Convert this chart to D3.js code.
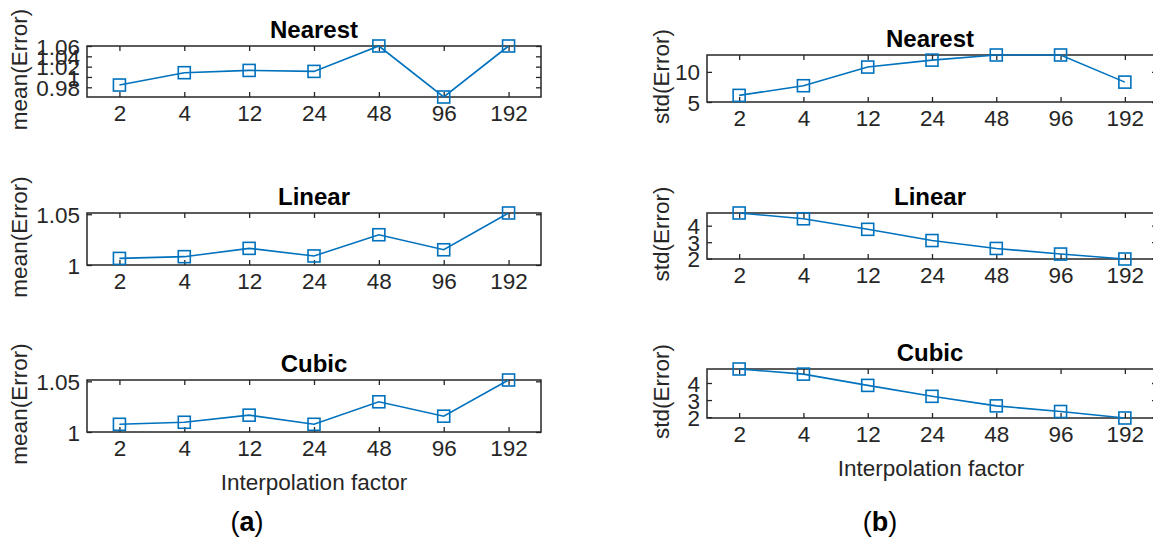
<!DOCTYPE html>
<html>
<head>
<meta charset="utf-8">
<script src="https://cdn.jsdelivr.net/npm/d3@7/dist/d3.min.js"></script>
<style>
  html, body { margin: 0; padding: 0; background: #fff; }
  svg { display: block; }
  text { font-family: "Liberation Sans", Arial, Helvetica, sans-serif; }
</style>
</head>
<body>
<svg id="chart" width="1153" height="540"></svg>
<script>
// Interpolation factors (shared x categories)
const factors = ["2", "4", "12", "24", "48", "96", "192"];

// (a) mean error per interpolation method
const meanNearest = [0.9844, 1.0083, 1.0127, 1.0108, 1.0600, 0.9612, 1.0600];
const meanLinear  = [1.0065, 1.0082, 1.0164, 1.0089, 1.0298, 1.0150, 1.0512];
const meanCubic   = [1.0076, 1.0096, 1.0166, 1.0076, 1.0298, 1.0156, 1.0513];

// (b) standard deviation of error per interpolation method
const stdNearest = [6.1, 7.7, 10.8, 11.95, 12.8, 12.8, 8.3];
const stdLinear  = [4.77, 4.42, 3.78, 3.10, 2.62, 2.28, 1.98];
const stdCubic   = [4.82, 4.52, 3.86, 3.22, 2.66, 2.33, 1.95];

// y tick values
const meanNearestTicks = [0.98, 1, 1.02, 1.04, 1.06];
const meanTicks = [1, 1.05];
const stdNearestTicks = [5, 10];
const stdTicks = [2, 3, 4];

const titles = ["Nearest", "Linear", "Cubic"];
const xLabelText = "Interpolation factor";

const svg = d3.select("#chart");
const LINE = "#0072BD";
const AX = "#262626";
const FS = 22.5;

// panel boxes
const panels = [
  { vals: meanNearest, ticks: meanNearestTicks, title: titles[0], ylab: "mean(Error)", x0: 87, x1: 541, y0: 46, y1: 97, lo: null },
  { vals: meanLinear,  ticks: meanTicks,        title: titles[1], ylab: "mean(Error)", x0: 87, x1: 541, y0: 213, y1: 265, lo: 1 },
  { vals: meanCubic,   ticks: meanTicks,        title: titles[2], ylab: "mean(Error)", x0: 87, x1: 541, y0: 380, y1: 432, lo: 1, xlab: true },
  { vals: stdNearest,  ticks: stdNearestTicks,  title: titles[0], ylab: "std(Error)",  x0: 707, x1: 1157, y0: 55, y1: 102, lo: 5 },
  { vals: stdLinear,   ticks: stdTicks,         title: titles[1], ylab: "std(Error)",  x0: 707, x1: 1157, y0: 213, y1: 259, lo: null },
  { vals: stdCubic,    ticks: stdTicks,         title: titles[2], ylab: "std(Error)",  x0: 707, x1: 1157, y0: 369, y1: 418, lo: null, xlab: true }
];

const fmt = v => d3.format("~g")(+v.toFixed(4));

panels.forEach(p => {
  const g = svg.append("g");
  const x = d3.scalePoint().domain(factors).range([p.x0, p.x1]).padding(0.5);
  const lo = p.lo !== null ? p.lo : d3.min(p.vals);
  const y = d3.scaleLinear().domain([lo, d3.max(p.vals)]).range([p.y1, p.y0]);
  const TK = 5;

  // bottom axis with labels, ticks pointing inward
  const bx = g.append("g").attr("transform", `translate(0,${p.y1})`)
    .call(d3.axisBottom(x).tickSizeInner(-TK).tickSizeOuter(0).tickPadding(8));
  // top axis ticks only
  const tx = g.append("g").attr("transform", `translate(0,${p.y0})`)
    .call(d3.axisTop(x).tickSizeInner(-TK).tickSizeOuter(0).tickFormat(""));
  // left axis with labels
  const ly = g.append("g").attr("transform", `translate(${p.x0},0)`)
    .call(d3.axisLeft(y).tickValues(p.ticks).tickFormat(fmt).tickSizeInner(-TK).tickSizeOuter(0).tickPadding(7));
  // right axis ticks only
  const ry = g.append("g").attr("transform", `translate(${p.x1},0)`)
    .call(d3.axisRight(y).tickValues(p.ticks).tickSizeInner(-TK).tickSizeOuter(0).tickFormat(""));

  [bx, tx, ly, ry].forEach(a => {
    a.select(".domain").remove();
    a.selectAll(".tick line").attr("stroke", AX).attr("stroke-width", 1.3);
    a.selectAll(".tick text").attr("fill", AX).attr("font-size", FS)
      .attr("font-family", "Liberation Sans, Arial, sans-serif");
  });
  bx.selectAll(".tick text").attr("dy", "0.71em");
  ly.selectAll(".tick text").attr("dy", "0.36em");

  // axes box
  g.append("rect")
    .attr("x", p.x0).attr("y", p.y0)
    .attr("width", p.x1 - p.x0).attr("height", p.y1 - p.y0)
    .attr("fill", "none").attr("stroke", AX).attr("stroke-width", 1.5);

  // series line
  const line = d3.line().x((d, i) => x(factors[i])).y(d => y(d));
  g.append("path").datum(p.vals)
    .attr("d", line).attr("fill", "none")
    .attr("stroke", LINE).attr("stroke-width", 1.6);

  // square markers
  const MS = 12;
  g.selectAll(".mk").data(p.vals).join("rect")
    .attr("class", "mk")
    .attr("x", (d, i) => x(factors[i]) - MS / 2)
    .attr("y", d => y(d) - MS / 2)
    .attr("width", MS).attr("height", MS)
    .attr("fill", "none").attr("stroke", LINE).attr("stroke-width", 1.6);

  // title
  g.append("text")
    .attr("x", (p.x0 + p.x1) / 2 - (p.x0 > 600 ? 2 : 0))
    .attr("y", p.y0 - 8)
    .attr("text-anchor", "middle")
    .attr("font-size", 24).attr("font-weight", "bold").attr("fill", "#000")
    .text(p.title);

  // y label
  const lx = p.x0 > 600 ? 661 : 19;
  const lyc = (p.y0 + p.y1) / 2 - 2;
  g.append("text")
    .attr("transform", `translate(${lx},${lyc}) rotate(-90)`)
    .attr("text-anchor", "middle").attr("dy", "0.36em")
    .attr("font-size", FS).attr("fill", AX)
    .text(p.ylab);

  // x label
  if (p.xlab) {
    g.append("text")
      .attr("x", p.x0 > 600 ? 931 : 314)
      .attr("y", p.y1 + 58)
      .attr("text-anchor", "middle")
      .attr("font-size", FS).attr("fill", AX)
      .text(xLabelText);
  }
});

// sub-figure captions
const captions = [{ t: "a", cx: 247 }, { t: "b", cx: 880 }];
captions.forEach(c => {
  const t = svg.append("text")
    .attr("x", c.cx).attr("y", 531)
    .attr("text-anchor", "middle")
    .attr("font-family", "Liberation Serif, 'DejaVu Serif', serif")
    .attr("font-size", 27).attr("fill", "#000");
  t.append("tspan").text("(");
  t.append("tspan").attr("font-weight", "bold").text(c.t);
  t.append("tspan").text(")");
});
</script>
</body>
</html>
